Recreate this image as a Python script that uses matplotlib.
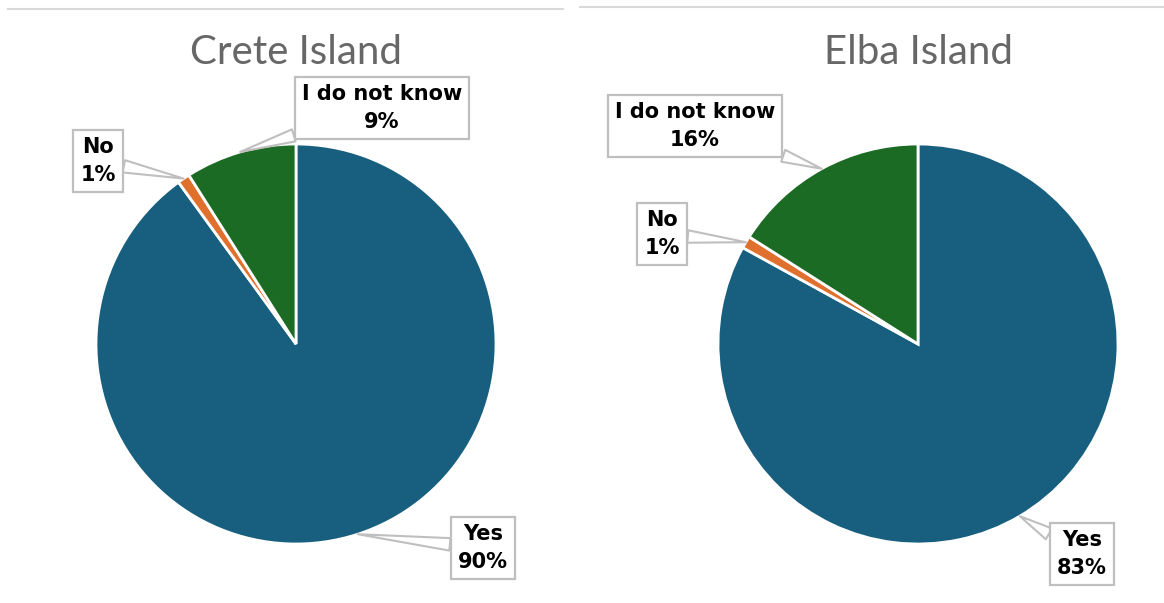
import numpy as np
import matplotlib.pyplot as plt
from matplotlib.lines import Line2D

labels = ['Yes', 'No', 'I do not know']
crete = [90, 1, 9]
elba = [83, 1, 16]
colors = ['#175E7F', '#E0702E', '#1C6B24']

W, H = 1164, 603
fig = plt.figure(figsize=(W / 100, H / 100), dpi=100)


def pie_panel(cx, cy, values, title, text_pos):
    # axes 600px wide, limits +-1.5 so radius 1 -> 200px
    ax = fig.add_axes([(cx - 300) / W, (H - cy - 300) / H, 600 / W, 600 / H])
    wedges, _ = ax.pie(values, colors=colors, startangle=90, counterclock=False,
                       radius=1, wedgeprops=dict(edgecolor='white', linewidth=2))
    ax.set_xlim(-1.5, 1.5)
    ax.set_ylim(-1.5, 1.5)
    ax.axis('off')
    for w, lab, v, (tx, ty) in zip(wedges, labels, values, text_pos):
        ang = np.deg2rad((w.theta1 + w.theta2) / 2)
        xy = (np.cos(ang), np.sin(ang))
        ax.annotate(f'{lab}\n{v}%', xy=xy, xytext=(tx, H - ty),
                    textcoords='figure pixels', ha='center', va='center',
                    fontsize=15, fontweight='bold', color='black', linespacing=1.5,
                    bbox=dict(boxstyle='square,pad=0.35', fc='white', ec='#BFBFBF', lw=1.6),
                    arrowprops=dict(arrowstyle='wedge,tail_width=0.6', fc='white',
                                    ec='#BFBFBF', lw=1.5, shrinkA=0, shrinkB=0))
    fig.text(cx / W, 1 - 52 / H, title, ha='center', va='center', fontsize=29,
             family='Lato', color='#676767')


pie_panel(296, 344, crete, 'Crete Island', [(483, 548), (98, 161), (382, 108)])
pie_panel(918, 344, elba, 'Elba Island', [(1082, 554), (662, 234), (695, 126)])

fig.add_artist(Line2D([8 / W, 563 / W], [1 - 9 / H, 1 - 9 / H], color='#D9D9D9', lw=1.5))
fig.add_artist(Line2D([580 / W, 1], [1 - 7 / H, 1 - 7 / H], color='#D9D9D9', lw=1.5))

fig.savefig('out.png', dpi=100)
